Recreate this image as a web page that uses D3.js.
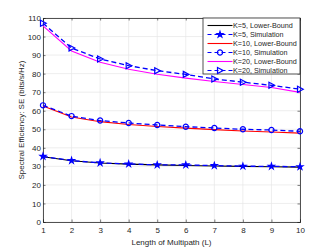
<!DOCTYPE html>
<html>
<head>
<meta charset="utf-8">
<script src="https://cdn.jsdelivr.net/npm/d3@7"></script>
<style>
  body { margin: 0; background: #fff; }
  svg { font-family: "Liberation Sans", Arial, sans-serif; }
</style>
</head>
<body>
<div id="chart"></div>
<script>
  // data
  var L = [1, 2, 3, 4, 5, 6, 7, 8, 9, 10];
  var k5Lower = [35.2, 33.0, 31.8, 31.2, 30.8, 30.5, 30.2, 30.0, 29.8, 29.6];
  var k5Sim = [35.4, 33.1, 31.9, 31.3, 30.8, 30.8, 30.4, 30.1, 30.0, 29.8];
  var k10Lower = [62.5, 56.6, 54.1, 52.6, 51.5, 50.6, 49.8, 49.1, 48.5, 47.9];
  var k10Sim = [62.9, 57.1, 54.7, 53.4, 52.3, 51.4, 50.7, 50.0, 49.6, 48.9];
  var k20Lower = [105.8, 92.2, 86.1, 82.4, 79.7, 77.6, 75.8, 74.1, 72.5, 69.9];
  var k20Sim = [107.2, 93.8, 87.9, 84.3, 81.6, 79.6, 77.1, 75.4, 73.7, 71.6];
  var xTicks = [1, 2, 3, 4, 5, 6, 7, 8, 9, 10];
  var yTicks = [0, 10, 20, 30, 40, 50, 60, 70, 80, 90, 100, 110];

  var series = [
    { name: 'K=5, Lower-Bound', values: k5Lower, color: '#000000', dash: null, marker: null },
    { name: 'K=5, Simulation', values: k5Sim, color: '#0000ff', dash: '5,3', marker: 'star' },
    { name: 'K=10, Lower-Bound', values: k10Lower, color: '#ff0000', dash: null, marker: null },
    { name: 'K=10, Simulation', values: k10Sim, color: '#0000ff', dash: '5,3', marker: 'circle' },
    { name: 'K=20, Lower-Bound', values: k20Lower, color: '#ff00ff', dash: null, marker: null },
    { name: 'K=20, Simulation', values: k20Sim, color: '#0000ff', dash: '5,3', marker: 'triangle' }
  ];

  var width = 332, height = 249;
  var margin = { top: 18, right: 32, bottom: 27, left: 43 };
  var w = width - margin.left - margin.right;
  var h = height - margin.top - margin.bottom;

  var svg = d3.select('#chart').append('svg')
      .attr('width', width)
      .attr('height', height);

  var g = svg.append('g')
      .attr('transform', 'translate(' + margin.left + ',' + margin.top + ')');

  var x = d3.scaleLinear().domain([1, 10]).range([0, w]);
  var y = d3.scaleLinear().domain([0, 110]).range([h, 0]);

  // grid
  g.append('g').selectAll('line').data(xTicks).enter().append('line')
      .attr('x1', function(d) { return x(d); })
      .attr('x2', function(d) { return x(d); })
      .attr('y1', 0).attr('y2', h)
      .attr('stroke', '#e6e6e6').attr('stroke-width', 0.7);
  g.append('g').selectAll('line').data(yTicks).enter().append('line')
      .attr('y1', function(d) { return y(d); })
      .attr('y2', function(d) { return y(d); })
      .attr('x1', 0).attr('x2', w)
      .attr('stroke', '#e6e6e6').attr('stroke-width', 0.7);

  // axes
  g.append('g')
      .attr('transform', 'translate(0,' + h + ')')
      .call(d3.axisBottom(x).tickValues(xTicks).tickSize(-2.5).tickPadding(5).tickFormat(d3.format('d')));
  g.append('g')
      .call(d3.axisLeft(y).tickValues(yTicks).tickSize(-2.5).tickPadding(2));
  g.append('g')
      .call(d3.axisTop(x).tickValues(xTicks).tickSize(-2.5).tickFormat(''));
  g.append('g')
      .attr('transform', 'translate(' + w + ',0)')
      .call(d3.axisRight(y).tickValues(yTicks).tickSize(-2.5).tickFormat(''));
  g.selectAll('.domain').attr('stroke', '#262626').attr('stroke-width', 0.8);
  g.selectAll('.tick line').attr('stroke', '#262626').attr('stroke-width', 0.6);
  g.selectAll('.tick text').attr('fill', '#262626').style('font-size', '8px');

  // lines
  var line = d3.line()
      .x(function(d, i) { return x(L[i]); })
      .y(function(d) { return y(d); });

  function drawMarker(sel, type, color) {
    if (type === 'star') {
      sel.append('path')
          .attr('d', d3.symbol().type(d3.symbolStar).size(28))
          .attr('fill', color);
    } else if (type === 'circle') {
      sel.append('circle').attr('r', 2.6)
          .attr('fill', 'none').attr('stroke', color).attr('stroke-width', 1.2);
    } else if (type === 'triangle') {
      sel.append('path')
          .attr('d', 'M-2.5,-3L3.2,0L-2.5,3Z')
          .attr('fill', 'none').attr('stroke', color).attr('stroke-width', 1.2);
    }
  }

  series.forEach(function(s) {
    g.append('path')
        .datum(s.values)
        .attr('fill', 'none')
        .attr('stroke', s.color)
        .attr('stroke-width', s.marker ? 1.3 : 1.1)
        .attr('stroke-dasharray', s.dash)
        .attr('d', line);
    if (s.marker) {
      g.selectAll(null).data(s.values).enter().append('g')
          .attr('transform', function(d, i) { return 'translate(' + x(L[i]) + ',' + y(d) + ')'; })
          .each(function() { drawMarker(d3.select(this), s.marker, s.color); });
    }
  });

  // legend
  var lg = svg.append('g').attr('transform', 'translate(203,18)');
  lg.append('rect')
      .attr('width', 97).attr('height', 56)
      .attr('fill', '#fff').attr('stroke', '#262626').attr('stroke-width', 0.8);
  series.forEach(function(s, i) {
    var row = lg.append('g').attr('transform', 'translate(0,' + (7.5 + i * 9) + ')');
    row.append('line')
        .attr('x1', 4.5).attr('x2', 29.5)
        .attr('stroke', s.color).attr('stroke-width', 1.1)
        .attr('stroke-dasharray', s.dash ? '4,3' : null);
    if (s.marker) {
      var m = row.append('g').attr('transform', 'translate(17,0)');
      drawMarker(m, s.marker, s.color);
    }
    row.append('text')
        .attr('x', 30).attr('y', 2.5)
        .style('font-size', '7.2px')
        .attr('fill', '#262626')
        .text(s.name);
  });

  // axis labels
  svg.append('text')
      .attr('x', margin.left + w / 2).attr('y', 244.5)
      .attr('text-anchor', 'middle')
      .style('font-size', '8px')
      .attr('fill', '#262626')
      .text('Length of Multipath (L)');
  svg.append('text')
      .attr('transform', 'translate(23.5,' + (margin.top + h / 2) + ') rotate(-90)')
      .attr('text-anchor', 'middle')
      .style('font-size', '8px')
      .attr('fill', '#262626')
      .text('Spectral Efficiency: SE (bits/s/Hz)');
</script>
</body>
</html>
